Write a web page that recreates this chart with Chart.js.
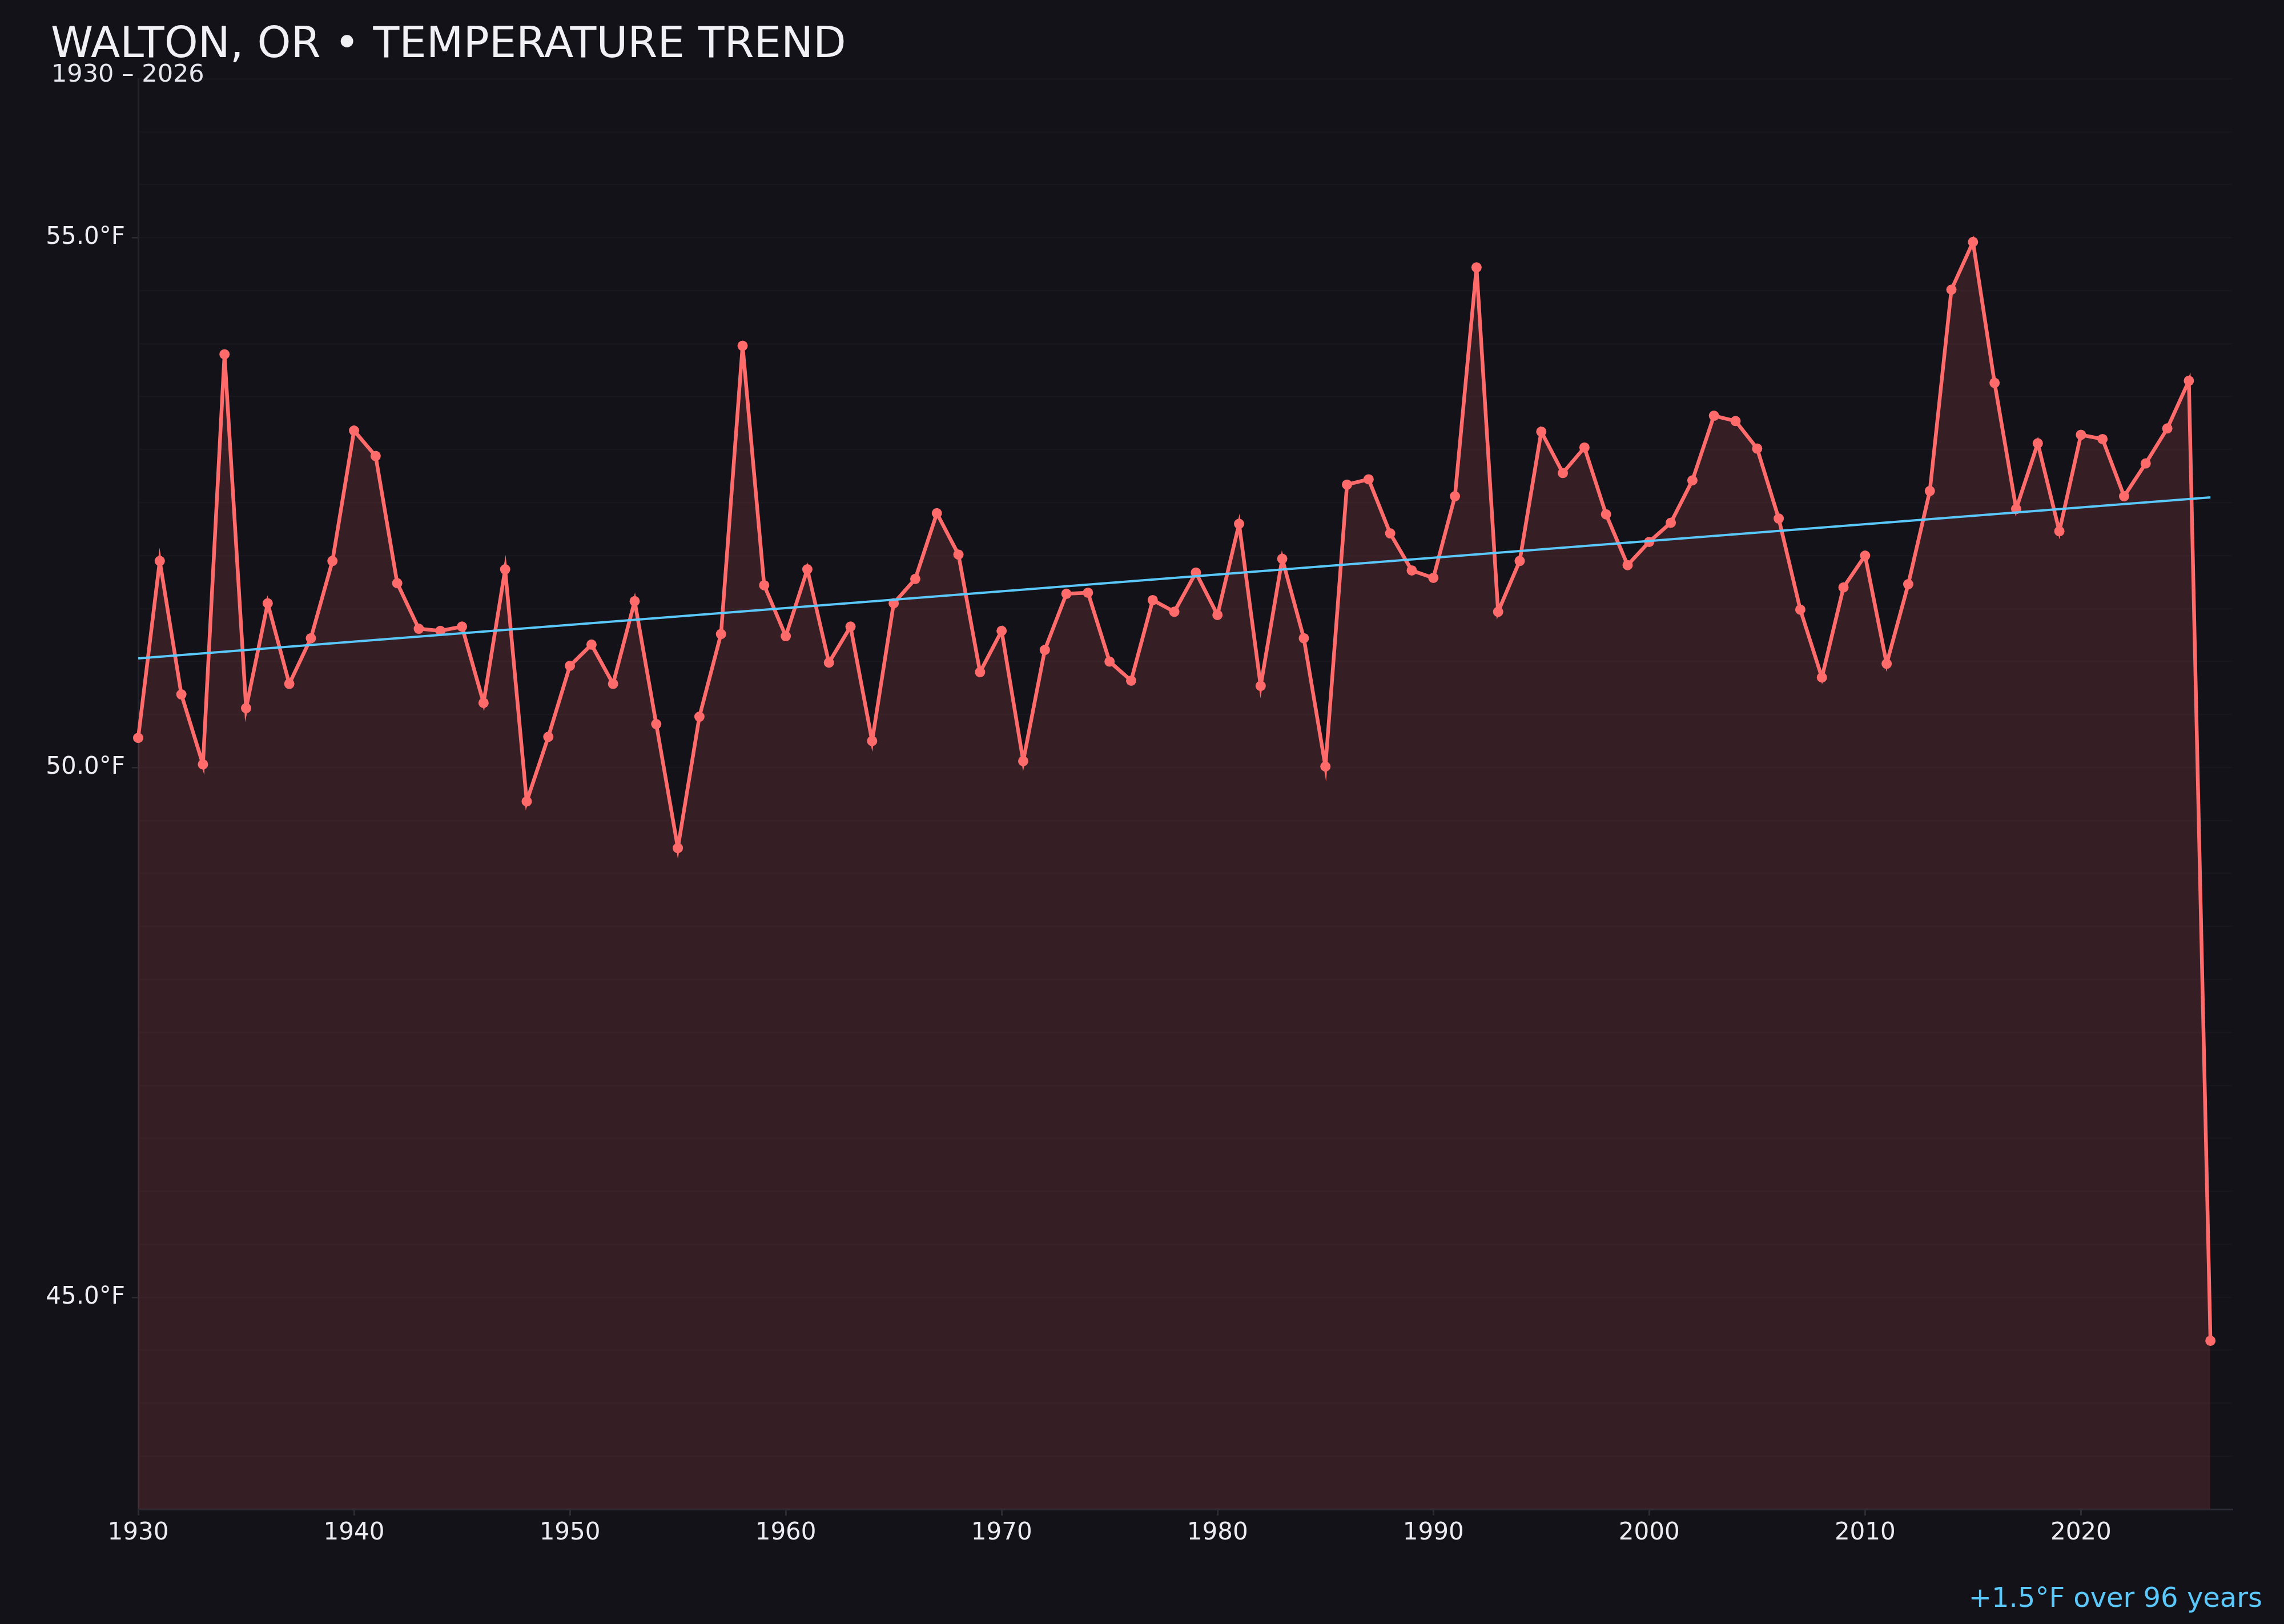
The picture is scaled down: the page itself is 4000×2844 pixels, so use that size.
<!DOCTYPE html>
<html>
<head>
<meta charset="utf-8">
<title>Walton, OR temperature trend</title>
<script src="https://cdn.jsdelivr.net/npm/chart.js@4.4.1/dist/chart.umd.min.js"></script>
<style>
  html, body { margin: 0; padding: 0; background: #121218; }
  body { width: 4000px; height: 2844px; position: relative; overflow: hidden; font-family: "DejaVu Sans", sans-serif; }
  #chartWrap { position: absolute; left: 0; top: 0; width: 4000px; height: 2844px; }
  .title { position: absolute; left: 89px; top: 37px; font-size: 75px; line-height: 1; color: #f0f0f5; white-space: nowrap; }
  .subtitle { position: absolute; left: 90px; top: 107px; font-size: 43px; line-height: 1; color: #e6e6ee; white-space: nowrap; }
  .note { position: absolute; right: 38px; top: 2773px; font-size: 48px; line-height: 1; color: #5ac8fa; white-space: nowrap; }
</style>
</head>
<body>
<div id="chartWrap"><canvas id="trendChart" width="4000" height="2844"></canvas></div>
<div class="title">WALTON, OR • TEMPERATURE TREND</div>
<div class="subtitle">1930 – 2026</div>
<div class="note">+1.5°F over 96 years</div>
<script>
const years = [
  1930, 1931, 1932, 1933, 1934, 1935, 1936, 1937, 1938, 1939,
  1940, 1941, 1942, 1943, 1944, 1945, 1946, 1947, 1948, 1949,
  1950, 1951, 1952, 1953, 1954, 1955, 1956, 1957, 1958, 1959,
  1960, 1961, 1962, 1963, 1964, 1965, 1966, 1967, 1968, 1969,
  1970, 1971, 1972, 1973, 1974, 1975, 1976, 1977, 1978, 1979,
  1980, 1981, 1982, 1983, 1984, 1985, 1986, 1987, 1988, 1989,
  1990, 1991, 1992, 1993, 1994, 1995, 1996, 1997, 1998, 1999,
  2000, 2001, 2002, 2003, 2004, 2005, 2006, 2007, 2008, 2009,
  2010, 2011, 2012, 2013, 2014, 2015, 2016, 2017, 2018, 2019,
  2020, 2021, 2022, 2023, 2024, 2025, 2026
];

// annual mean temperature, °F
const avgTemp = [
  50.28, 51.95, 50.69, 50.03, 53.90, 50.56, 51.55, 50.79, 51.22, 51.95,
  53.18, 52.94, 51.74, 51.31, 51.29, 51.33, 50.61, 51.87, 49.68, 50.29,
  50.96, 51.16, 50.79, 51.57, 50.41, 49.24, 50.48, 51.26, 53.98, 51.72,
  51.24, 51.87, 50.99, 51.33, 50.25, 51.55, 51.78, 52.40, 52.01, 50.90,
  51.29, 50.06, 51.11, 51.64, 51.65, 51.00, 50.82, 51.58, 51.47, 51.84,
  51.44, 52.30, 50.77, 51.97, 51.22, 50.01, 52.67, 52.72, 52.21, 51.86,
  51.79, 52.56, 54.72, 51.47, 51.95, 53.17, 52.78, 53.02, 52.39, 51.91,
  52.13, 52.31, 52.71, 53.32, 53.27, 53.01, 52.35, 51.49, 50.85, 51.70,
  52.00, 50.98, 51.73, 52.61, 54.51, 54.96, 53.63, 52.44, 53.06, 52.23,
  53.14, 53.10, 52.56, 52.87, 53.20, 53.65, 44.59
];

const trendYears = [1930, 2026];
const trendTemp = [51.03, 52.55];

const xTickYears = [1930, 1940, 1950, 1960, 1970, 1980, 1990, 2000, 2010, 2020];
const yLabelValues = [45, 50, 55];

const isLabelled = (v) => yLabelValues.some((l) => Math.abs(l - v) < 1e-6);

const tempPoints = years.map((y, i) => ({ x: y, y: avgTemp[i] }));
const trendPoints = trendYears.map((y, i) => ({ x: y, y: trendTemp[i] }));

new Chart(document.getElementById('trendChart'), {
  type: 'line',
  data: {
    datasets: [
      {
        label: 'Trend',
        data: trendPoints,
        borderColor: '#5ac8fa',
        borderWidth: 4,
        pointRadius: 0,
        fill: false,
        clip: false,
        tension: 0
      },
      {
        label: 'Annual mean',
        data: tempPoints,
        borderColor: '#ff6b6b',
        backgroundColor: 'rgba(255, 107, 107, 0.15)',
        borderWidth: 6.5,
        pointRadius: 9,
        pointBackgroundColor: '#ff6b6b',
        pointBorderWidth: 0,
        fill: 'start',
        clip: false,
        tension: 0
      }
    ]
  },
  options: {
    responsive: false,
    animation: false,
    devicePixelRatio: 1,
    layout: { padding: { left: 0, top: 138, right: 91, bottom: 0 } },
    plugins: {
      legend: { display: false },
      tooltip: { enabled: false }
    },
    scales: {
      x: {
        type: 'linear',
        min: 1930,
        max: 2027,
        afterBuildTicks: (scale) => { scale.ticks = xTickYears.map((v) => ({ value: v })); },
        afterFit: (scale) => { scale.height = 201; },
        border: { display: true, color: '#2c2c36', width: 3 },
        grid: { drawOnChartArea: false, drawTicks: true, tickLength: 11, tickColor: '#2c2c36', lineWidth: 3 },
        ticks: {
          autoSkip: false,
          maxRotation: 0,
          padding: 6,
          color: '#ececf2',
          font: { family: 'DejaVu Sans', size: 42 },
          callback: (v) => String(v)
        }
      },
      y: {
        min: 43,
        max: 56.5,
        afterFit: (scale) => { scale.width = 242; },
        border: { display: true, color: '#25252e', width: 3 },
        grid: {
          color: 'rgba(255, 255, 255, 0.025)',
          lineWidth: 2.5,
          tickLength: 11,
          tickColor: (ctx) => (ctx.tick && isLabelled(ctx.tick.value) ? '#2c2c36' : 'rgba(0,0,0,0)')
        },
        ticks: {
          stepSize: 0.5,
          autoSkip: false,
          padding: 12,
          color: '#ececf2',
          font: { family: 'DejaVu Sans', size: 42 },
          callback: (v) => (isLabelled(v) ? v.toFixed(1) + '°F' : '')
        }
      }
    }
  }
});
</script>
</body>
</html>
